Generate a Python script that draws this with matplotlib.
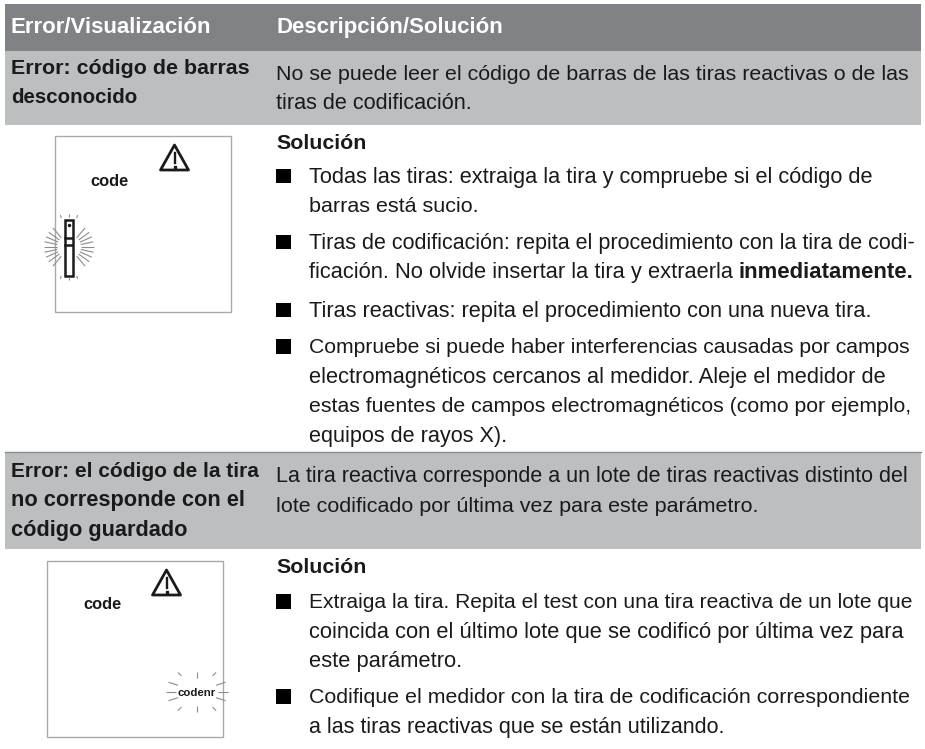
import numpy as np
import matplotlib
matplotlib.use("Agg")
import matplotlib.pyplot as plt
from matplotlib.patches import Rectangle, Polygon

W, H = 925, 749

header_labels = ["Error/Visualización", "Descripción/Solución"]

error_left = [
    ["Error: código de barras", "desconocido"],
    ["Error: el código de la tira", "no corresponde con el", "código guardado"],
]
error_right = [
    ["No se puede leer el código de barras de las tiras reactivas o de las",
     "tiras de codificación."],
    ["La tira reactiva corresponde a un lote de tiras reactivas distinto del",
     "lote codificado por última vez para este parámetro."],
]

bullets_1 = [
    ["Todas las tiras: extraiga la tira y compruebe si el código de",
     "barras está sucio."],
    ["Tiras de codificación: repita el procedimiento con la tira de codi-",
     "ficación. No olvide insertar la tira y extraerla"],
    ["Tiras reactivas: repita el procedimiento con una nueva tira."],
    ["Compruebe si puede haber interferencias causadas por campos",
     "electromagnéticos cercanos al medidor. Aleje el medidor de",
     "estas fuentes de campos electromagnéticos (como por ejemplo,",
     "equipos de rayos X)."],
]
bullets_2 = [
    ["Extraiga la tira. Repita el test con una tira reactiva de un lote que",
     "coincida con el último lote que se codificó por última vez para",
     "este parámetro."],
    ["Codifique el medidor con la tira de codificación correspondiente",
     "a las tiras reactivas que se están utilizando."],
]
bold_word = "inmediatamente."
solution_label = "Solución"

# right end of each line as measured on the page, the typesetting was tightened line by line
left_ends = [[250, 138], [259, 246, 188]]
right_ends = [[908, 471], [908, 758]]
ends_1 = [[872, 478], [915, 732], [871], [910, 885, 910, 507]]
ends_2 = [[910, 903, 462], [910, 725]]

HEAD = "#808285"
BAND = "#bcbec0"
INK = "#1a1a1a"
FONT = "Liberation Sans"
FS = 15.5
FS_BOLD = 15.4
FS_HEAD = 16.0
LINE = 29.6


def fit_line(t, x_end):
    # shrink or grow the font a little so the line stops where it does on the page
    bb = t.get_window_extent(fig.canvas.get_renderer())
    t.set_fontsize(t.get_fontsize() * (x_end - bb.x0) / bb.width)


def draw_rays(ax, cx, cy, r0, r1, angles):
    for a in np.radians(angles):
        c, s = np.cos(a), np.sin(a)
        ax.plot([cx + r0 * c, cx + r1 * c], [cy + r0 * s, cy + r1 * s],
                color="#8a8c8e", lw=0.8, solid_capstyle="butt")


def draw_panel(ax, x, y, size, code_x, code_base):
    ax.add_patch(Rectangle((x, y), size, size, fc="white", ec="#a7a9ac", lw=1.0))
    tx, ty = x + 119.5, y + 9
    ax.add_patch(Polygon([(tx, ty), (tx - 14, ty + 25), (tx + 14, ty + 25)],
                         closed=True, fc="white", ec=INK, lw=2.0, joinstyle="round"))
    ax.plot([tx, tx], [ty + 8, ty + 18], color=INK, lw=1.7)
    ax.plot([tx], [ty + 21.5], "s", color=INK, ms=1.6)
    ax.text(code_x, code_base, "code", fontsize=11.8, fontweight="bold",
            family=FONT, color=INK, ha="center", va="baseline")


def draw_bullets(ax, groups, ends, ys):
    for lines, line_ends, y0 in zip(groups, ends, ys):
        ax.add_patch(Rectangle((276, y0 - 14), 15, 14.5, fc="black", ec="none"))
        for i, line in enumerate(lines):
            t = ax.text(309, y0 + i * LINE, line, fontsize=FS, family=FONT,
                        color=INK, va="baseline")
            fit_line(t, line_ends[i])
            if line.endswith("extraerla"):
                b = ax.text(739, y0 + i * LINE, bold_word, fontsize=FS, family=FONT,
                            color=INK, fontweight="bold", va="baseline")
                fit_line(b, 914)


fig = plt.figure(figsize=(W / 100, H / 100), dpi=100)
ax = fig.add_axes([0, 0, 1, 1])
ax.set_xlim(0, W)
ax.set_ylim(H, 0)
ax.axis("off")

ax.add_patch(Rectangle((5, 4), 916, 47, fc=HEAD, ec="none"))
ax.add_patch(Rectangle((5, 51), 916, 74, fc=BAND, ec="none"))
ax.add_patch(Rectangle((5, 452), 916, 97, fc=BAND, ec="none"))
ax.plot([5, 921], [452, 452], color="#8a8c8e", lw=1.0)

ax.text(11, 33, header_labels[0], fontsize=FS_HEAD, fontweight="bold", family=FONT,
        color="white", va="baseline")
ax.text(276, 33, header_labels[1], fontsize=FS_HEAD, fontweight="bold", family=FONT,
        color="white", va="baseline")

for lines, line_ends, y0 in zip(error_left, left_ends, [74, 477]):
    for i, line in enumerate(lines):
        t = ax.text(11, y0 + i * 29.3, line, fontsize=FS_BOLD, fontweight="bold", family=FONT,
                    color=INK, va="baseline")
        fit_line(t, line_ends[i])
for lines, line_ends, y0 in zip(error_right, right_ends, [79.5, 482]):
    for i, line in enumerate(lines):
        t = ax.text(276, y0 + i * LINE, line, fontsize=FS, family=FONT, color=INK,
                    va="baseline")
        fit_line(t, line_ends[i])

for y0 in [149, 573]:
    ax.text(276, y0, solution_label, fontsize=FS_BOLD, fontweight="bold", family=FONT,
            color=INK, va="baseline")

draw_bullets(ax, bullets_1, ends_1, [182.5, 248.5, 316.5, 353])
draw_bullets(ax, bullets_2, ends_2, [608, 703])

draw_panel(ax, 55, 136, 176, 109, 186)
draw_panel(ax, 47, 561, 176, 102, 609)

# strip with blinking rays, first panel
ax.add_patch(Rectangle((64.5, 219.5), 8, 56, fc="white", ec=INK, lw=1.8))
ax.plot([65, 72], [238, 238], color=INK, lw=1.8)
ax.plot([65, 72], [244.5, 244.5], color=INK, lw=1.8)
ax.plot([68.5], [225], "o", color=INK, ms=1.5)
angs = np.array([-50, -36, -24, -12, 0, 12, 24, 36, 50])
draw_rays(ax, 69, 247, 12, 25, angs)
draw_rays(ax, 69, 247, 12, 25, 180 - angs)
draw_rays(ax, 69, 247, 30, 33, [-90, -75, -105, 90, 75, 105])

# blinking codenr, second panel
ax.text(197, 696, "codenr", fontsize=8.2, fontweight="bold", family=FONT, color=INK,
        ha="center", va="baseline")
draw_rays(ax, 197, 691.5, 21, 31, [0, 180])
draw_rays(ax, 197, 691.5, 14, 20, [90, 270])
draw_rays(ax, 197, 691.5, 22, 27, [45, 135, 225, 315])
draw_rays(ax, 197, 691.5, 20, 30, [18, 162, 198, 342])

fig.savefig("out.png", dpi=100)
